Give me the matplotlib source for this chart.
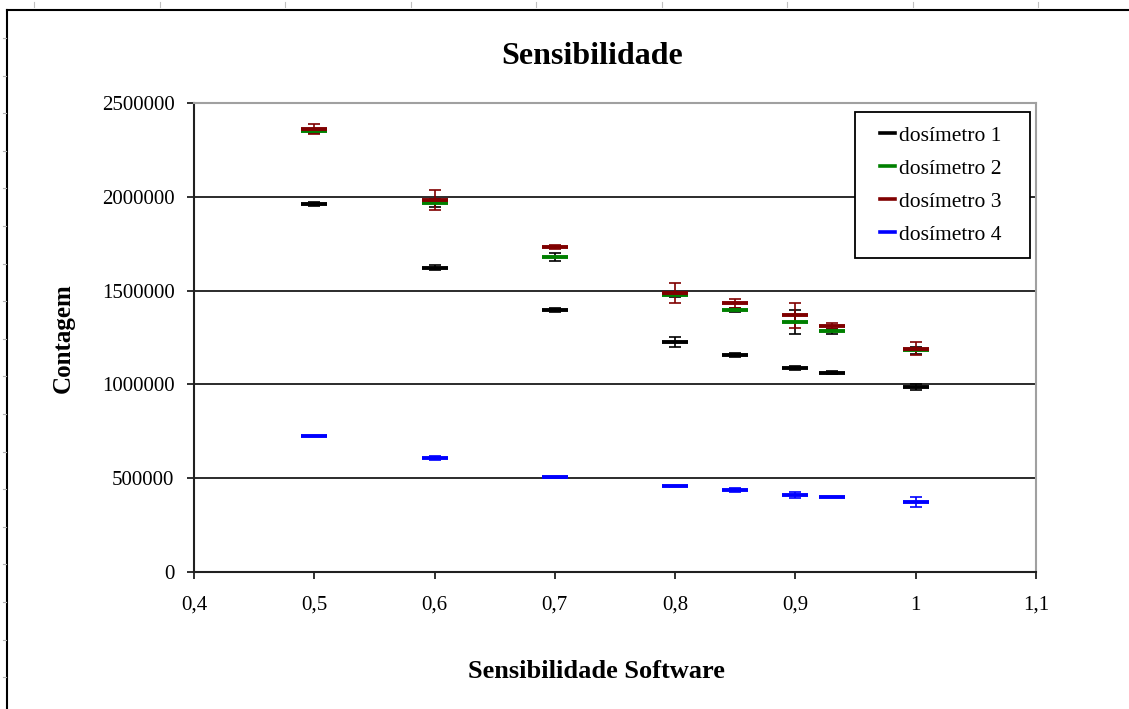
import matplotlib.pyplot as plt
from matplotlib.lines import Line2D
from matplotlib.patches import Rectangle
from matplotlib.ticker import FuncFormatter, MultipleLocator

plt.rcParams['font.family'] = ['Liberation Serif', 'DejaVu Serif']

# sensibilidade do software (eixo x)
sens = [0.5, 0.6, 0.7, 0.8, 0.85, 0.9, 0.93, 1.0]

# contagens, com barras de erro
dos1 = [1962000, 1622000, 1398000, 1226000, 1156000, 1087000, 1061000, 986000]
err1 = [12000, 12000, 10000, 27000, 12000, 10000, 8000, 15000]
dos2 = [2352000, 1967000, 1681000, 1477000, 1396000, 1330000, 1282000, 1181000]
err2 = [12000, 20000, 21000, 12000, 10000, 64000, 15000, 18000]
dos3 = [2362000, 1982000, 1731000, 1489000, 1432000, 1368000, 1310000, 1191000]
err3 = [27000, 53000, 10000, 53000, 24000, 68000, 15000, 35000]
dos4 = [725000, 608000, 505000, 457000, 437000, 409000, 398000, 372000]
err4 = [0, 10000, 0, 0, 12000, 16000, 0, 27000]

labels = ['dosímetro 1', 'dosímetro 2', 'dosímetro 3', 'dosímetro 4']
colors = ['#000000', '#008000', '#800000', '#0000ff']
err_colors = ['#000000', '#000000', '#800000', '#0000ff']


def comma(v, pos):
    s = ('%.1f' % v).rstrip('0').rstrip('.')
    return s.replace('.', ',')


fig = plt.figure(figsize=(11.29, 7.09), dpi=100)
ax = fig.add_axes([194 / 1129, 137 / 709, 842 / 1129, 469 / 709])

series = [(dos1, err1), (dos2, err2), (dos3, err3), (dos4, err4)]
for (vals, errs), c, ec in zip(series, colors, err_colors):
    ax.errorbar(sens, vals, yerr=errs, fmt='none', ecolor=ec,
                elinewidth=1.2, capsize=4, capthick=1.2, zorder=3)
    ax.plot(sens, vals, linestyle='none', marker='_', ms=19, mew=2.8,
            color=c, zorder=4)

ax.set_xlim(0.4, 1.1)
ax.set_ylim(0, 2500000)
ax.xaxis.set_major_locator(MultipleLocator(0.1))
ax.yaxis.set_major_locator(MultipleLocator(500000))
ax.xaxis.set_major_formatter(FuncFormatter(comma))
ax.yaxis.set_major_formatter(FuncFormatter(lambda v, p: '%d' % v))
ax.grid(axis='y', color='#1a1a1a', linewidth=1.3)
ax.set_axisbelow(True)

for side in ['left', 'bottom']:
    ax.spines[side].set_linewidth(1.5)
    ax.spines[side].set_color('#202020')
for side in ['top', 'right']:
    ax.spines[side].set_linewidth(1.5)
    ax.spines[side].set_color('#a0a0a0')

ax.tick_params(axis='both', direction='out', length=5, width=1.3,
               color='#202020', labelsize=15)
ax.tick_params(axis='x', pad=12)
ax.tick_params(axis='y', pad=9)

fig.text(592 / 1129, 1 - 56 / 709, 'Sensibilidade', ha='center',
         va='center', fontsize=23, fontweight='bold')
ax.set_xlabel('Sensibilidade Software', fontsize=19, fontweight='bold')
ax.xaxis.set_label_coords((596 - 194) / 842, (572 - 671) / 469)
ax.xaxis.label.set_va('center')
ax.set_ylabel('Contagem', fontsize=18, fontweight='bold')
ax.yaxis.set_label_coords((63 - 194) / 842, (572 - 338) / 469)
ax.yaxis.label.set_va('center')

# legenda com caixa propria
box = Rectangle((0.785, 0.670), 0.208, 0.311, transform=ax.transAxes,
                facecolor='white', edgecolor='black', linewidth=1.3,
                zorder=5, clip_on=False)
ax.add_patch(box)
handles = [Line2D([], [], color=c, linewidth=2.6) for c in colors]
leg = ax.legend(handles, labels, loc='center left',
                bbox_to_anchor=(0.815, 0.825), frameon=False, fontsize=15.5,
                handlelength=0.7, handletextpad=0.15, labelspacing=0.6,
                borderpad=0, borderaxespad=0)
leg.set_zorder(6)

# moldura externa do grafico
fig.add_artist(Line2D([6.5 / 1129, 6.5 / 1129], [0, 1 - 9.5 / 709],
                      color='black', linewidth=1.5, transform=fig.transFigure))
fig.add_artist(Line2D([6.5 / 1129, 1], [1 - 9.5 / 709, 1 - 9.5 / 709],
                      color='black', linewidth=1.5, transform=fig.transFigure))

# marcas de regua da captura de tela
for i in range(9):
    px = 34 + 125.5 * i
    fig.add_artist(Line2D([px / 1129, px / 1129], [1 - 2 / 709, 1 - 7 / 709],
                          color='#c0c0c0', linewidth=0.8,
                          transform=fig.transFigure))
for i in range(19):
    py = 38 + 37.6 * i
    fig.add_artist(Line2D([3 / 1129, 6 / 1129], [1 - py / 709, 1 - py / 709],
                          color='#b0b0b0', linewidth=0.8,
                          transform=fig.transFigure))

plt.savefig('out.png', dpi=100)
